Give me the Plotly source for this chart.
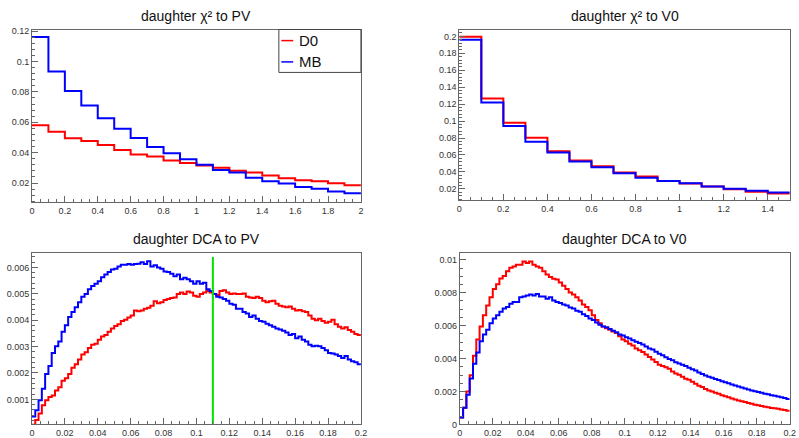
import numpy as np
import plotly.graph_objects as go

# ---------------- data ----------------
# daughter chi2 to PV : 20 bins of 0.1 from 0 to 2
chi2pv_lo, chi2pv_w = 0.0, 0.1
chi2pv_D0 = [0.0581, 0.0538, 0.0495, 0.0476, 0.0450, 0.0418, 0.0388, 0.0375, 0.0349, 0.0331,
             0.0316, 0.0301, 0.0280, 0.0269, 0.0250, 0.0232, 0.0219, 0.0211, 0.0198, 0.0185]
chi2pv_MB = [0.1161, 0.0935, 0.0806, 0.0711, 0.0627, 0.0558, 0.0497, 0.0437, 0.0396, 0.0357,
             0.0321, 0.0286, 0.0269, 0.0234, 0.0211, 0.0196, 0.0174, 0.0163, 0.0144, 0.0133]

# daughter chi2 to V0 : 15 bins of 0.1 from 0 to 1.5
chi2v0_lo, chi2v0_w = 0.0, 0.1
chi2v0_D0 = [0.1996, 0.1266, 0.0980, 0.0803, 0.0644, 0.0536, 0.0467, 0.0393, 0.0347, 0.0293,
             0.0262, 0.0227, 0.0196, 0.0165, 0.0146]
chi2v0_MB = [0.1961, 0.1220, 0.0942, 0.0756, 0.0629, 0.0524, 0.0455, 0.0385, 0.0331, 0.0293,
             0.0266, 0.0227, 0.0200, 0.0177, 0.0158]

# DCA histograms : 100 bins of 0.002 from 0 to 0.2, values in units of 1e-3
dca_lo, dca_w = 0.0, 0.002
dcapv_D0_e3 = [0.04, 0.22, 0.47, 0.78, 0.97, 1.09, 1.15, 1.34, 1.46, 1.71,
               1.80, 1.96, 2.20, 2.33, 2.51, 2.70, 2.79, 2.95, 3.07, 3.11,
               3.26, 3.38, 3.44, 3.56, 3.69, 3.78, 3.85, 3.97, 4.02, 4.10,
               4.18, 4.37, 4.34, 4.37, 4.43, 4.47, 4.55, 4.72, 4.64, 4.68,
               4.77, 4.80, 4.84, 4.86, 4.99, 5.05, 4.99, 5.09, 5.05, 4.93,
               4.89, 4.99, 5.05, 5.11, 5.05, 4.99, 4.96, 5.11, 5.14, 5.05,
               4.99, 5.01, 4.99, 4.99, 5.01, 4.89, 4.86, 4.84, 4.89, 4.84,
               4.74, 4.68, 4.72, 4.74, 4.62, 4.55, 4.52, 4.49, 4.52, 4.43,
               4.37, 4.39, 4.34, 4.31, 4.18, 4.06, 4.00, 4.06, 3.97, 3.90,
               3.94, 4.02, 3.85, 3.75, 3.69, 3.73, 3.63, 3.56, 3.48, 3.44]
dcapv_MB_e3 = [0.35, 0.59, 0.97, 1.40, 1.96, 2.27, 2.76, 3.01, 3.19, 3.56,
               3.81, 4.12, 4.31, 4.49, 4.68, 4.89, 4.99, 5.17, 5.30, 5.38,
               5.48, 5.63, 5.73, 5.83, 5.92, 5.95, 6.04, 6.10, 6.10, 6.13,
               6.10, 6.13, 6.14, 6.20, 6.13, 6.23, 6.04, 6.08, 6.00, 5.95,
               5.85, 5.83, 5.76, 5.67, 5.73, 5.55, 5.61, 5.55, 5.48, 5.38,
               5.48, 5.38, 5.42, 5.17, 5.11, 4.99, 4.89, 4.86, 4.80, 4.74,
               4.62, 4.59, 4.43, 4.43, 4.31, 4.25, 4.12, 4.18, 4.06, 3.97,
               3.94, 3.87, 3.81, 3.75, 3.69, 3.65, 3.60, 3.53, 3.44, 3.48,
               3.32, 3.38, 3.26, 3.19, 3.07, 3.01, 3.03, 3.01, 2.95, 2.86,
               2.76, 2.74, 2.70, 2.64, 2.57, 2.64, 2.51, 2.45, 2.41, 2.33]
dcav0_D0_e3 = [0.42, 1.01, 2.00, 2.99, 4.17, 5.16, 5.95, 6.64, 7.23, 7.73,
               8.22, 8.52, 8.87, 9.01, 9.31, 9.51, 9.60, 9.70, 9.70, 9.90,
               9.80, 9.90, 9.70, 9.60, 9.51, 9.31, 9.11, 8.95, 8.85, 8.81,
               8.62, 8.42, 8.22, 8.02, 7.89, 7.73, 7.53, 7.29, 7.14, 6.94,
               6.64, 6.35, 6.15, 5.95, 5.85, 5.75, 5.65, 5.56, 5.36, 5.16,
               5.05, 4.90, 4.80, 4.62, 4.50, 4.40, 4.25, 4.10, 3.95, 3.80,
               3.62, 3.55, 3.47, 3.38, 3.22, 3.10, 3.02, 2.90, 2.78, 2.72,
               2.60, 2.48, 2.35, 2.28, 2.15, 2.06, 2.00, 1.92, 1.86, 1.78,
               1.71, 1.65, 1.58, 1.52, 1.46, 1.41, 1.36, 1.30, 1.26, 1.20,
               1.17, 1.12, 1.08, 1.05, 1.00, 0.98, 0.95, 0.91, 0.88, 0.84]
dcav0_MB_e3 = [0.42, 1.01, 1.80, 2.79, 3.68, 4.37, 5.06, 5.46, 5.75, 6.15,
               6.44, 6.64, 6.84, 7.04, 7.14, 7.33, 7.43, 7.43, 7.73, 7.77,
               7.83, 7.89, 7.83, 7.93, 7.77, 7.77, 7.63, 7.73, 7.53, 7.43,
               7.37, 7.29, 7.23, 7.10, 7.04, 6.90, 6.84, 6.70, 6.58, 6.44,
               6.35, 6.19, 6.05, 5.95, 5.91, 5.79, 5.69, 5.60, 5.46, 5.40,
               5.30, 5.22, 5.12, 5.02, 4.95, 4.85, 4.74, 4.62, 4.55, 4.42,
               4.30, 4.20, 4.08, 3.98, 3.90, 3.78, 3.70, 3.62, 3.55, 3.45,
               3.36, 3.27, 3.15, 3.06, 2.98, 2.90, 2.84, 2.76, 2.70, 2.62,
               2.56, 2.50, 2.42, 2.37, 2.30, 2.24, 2.19, 2.12, 2.07, 2.01,
               1.97, 1.92, 1.87, 1.83, 1.78, 1.74, 1.70, 1.65, 1.61, 1.55]

cut_x = 0.11        # green cut line in DCA to PV
cut_top = 0.0064

titles = ["daughter χ² to PV", "daughter χ² to V0", "daughter DCA to PV", "daughter DCA to V0"]
series_names = ["D0", "MB"]

# ---------------- figure ----------------
W, H = 799, 438
RED, BLUE, GREEN = "#ff0000", "#0000ff", "#00e600"
FONT = "Liberation Sans, Arial, Helvetica, sans-serif"
AXC = "#666666"


def px(x):
    return x / W


def py(y):
    return 1 - y / H


def step(lo, w, vals, scale=1.0):
    v = np.asarray(vals, dtype=float) * scale
    edges = lo + w * np.arange(len(v) + 1)
    return edges, np.append(v, v[-1])


fig = go.Figure()

panels = [
    dict(D0=chi2pv_D0, MB=chi2pv_MB, lo=chi2pv_lo, w=chi2pv_w, s=1.0),
    dict(D0=chi2v0_D0, MB=chi2v0_MB, lo=chi2v0_lo, w=chi2v0_w, s=1.0),
    dict(D0=dcapv_D0_e3, MB=dcapv_MB_e3, lo=dca_lo, w=dca_w, s=1e-3),
    dict(D0=dcav0_D0_e3, MB=dcav0_MB_e3, lo=dca_lo, w=dca_w, s=1e-3),
]

for i, p in enumerate(panels):
    sfx = "" if i == 0 else str(i + 1)
    for name, col in (("D0", RED), ("MB", BLUE)):
        xe, ye = step(p["lo"], p["w"], p[name], p["s"])
        fig.add_trace(go.Scatter(x=xe, y=ye, mode="lines", line=dict(color=col, width=2, shape="hv"),
                                 name=name, showlegend=False, xaxis="x" + sfx, yaxis="y" + sfx,
                                 hoverinfo="skip"))

fig.add_trace(go.Scatter(x=[cut_x, cut_x], y=[0, cut_top], mode="lines",
                         line=dict(color=GREEN, width=2), showlegend=False,
                         xaxis="x3", yaxis="y3", hoverinfo="skip"))

# frame geometry in pixels: (left, right, top, bottom)
frames = [(29.3, 362.0, 27.0, 203.0), (461.5, 795.7, 27.0, 200.7),
          (29.3, 362.0, 254.3, 429.3), (462.0, 795.7, 254.7, 429.3)]
xranges = [[0, 2], [0, 1.5], [0, 0.2], [0, 0.2]]
yranges = [[0.0073, 0.1211], [0.0068, 0.2081], [0.00005, 0.00656], [0, 0.01041]]
xmaj = [0.2, 0.2, 0.02, 0.02]
xmin = [0.05, 0.05, 0.005, 0.005]
ymaj = [0.02, 0.02, 0.001, 0.002]
ymin = [0.004, 0.004, 0.0002, 0.0005]

layout = {}
for i, (l, r, t, b) in enumerate(frames):
    sfx = "" if i == 0 else str(i + 1)
    common = dict(showline=True, linecolor=AXC, linewidth=1, mirror=True, showgrid=False,
                  zeroline=False, ticks="inside", ticklen=6, tickcolor=AXC, tickwidth=1,
                  tickformat="~g", tickmode="linear", tick0=0,
                  tickfont=dict(family=FONT, size=9, color="#333333"))
    layout["xaxis" + sfx] = dict(common, domain=[px(l), px(r)], range=xranges[i], dtick=xmaj[i],
                                 anchor="y" + sfx,
                                 minor=dict(ticks="inside", ticklen=3, dtick=xmin[i], tick0=0,
                                            tickcolor=AXC, showgrid=False))
    layout["yaxis" + sfx] = dict(common, domain=[py(b), py(t)], range=yranges[i], dtick=ymaj[i],
                                 anchor="x" + sfx,
                                 minor=dict(ticks="inside", ticklen=3, dtick=ymin[i], tick0=0,
                                            tickcolor=AXC, showgrid=False))

title_pos = [(195.6, 13.0), (628.6, 13.0), (195.6, 240.7), (628.6, 240.7)]
annotations = []
for (tx, ty), tt in zip(title_pos, titles):
    annotations.append(dict(x=px(tx), y=py(ty), xref="paper", yref="paper", text=tt, showarrow=False,
                            xanchor="center", yanchor="middle",
                            font=dict(family=FONT, size=14, color="#111111")))

# legend box (top-left panel)
leg_l, leg_r, leg_t, leg_b = 279.0, 362.0, 27.0, 70.7
shapes = [dict(type="rect", xref="paper", yref="paper", x0=px(leg_l), x1=px(leg_r), y0=py(leg_b), y1=py(leg_t),
               line=dict(color="#444444", width=1), fillcolor="white", layer="above")]
for name, col, yy in (("D0", RED, 38.3), ("MB", BLUE, 60.0)):
    shapes.append(dict(type="line", xref="paper", yref="paper", x0=px(281.5), x1=px(293.5), y0=py(yy), y1=py(yy),
                       line=dict(color=col, width=1.5), layer="above"))
    annotations.append(dict(x=px(297), y=py(yy), xref="paper", yref="paper", text=name, showarrow=False,
                            xanchor="left", yanchor="middle",
                            font=dict(family=FONT, size=15, color="#111111")))

fig.update_layout(width=W, height=H, margin=dict(l=0, r=0, t=0, b=0),
                  paper_bgcolor="white", plot_bgcolor="white", showlegend=False,
                  annotations=annotations, shapes=shapes, **layout)

fig.write_html("out.html", config={"displayModeBar": False},
               post_script="document.body.style.margin='0';document.body.style.padding='0';"
                           "document.body.style.overflow='hidden';")
